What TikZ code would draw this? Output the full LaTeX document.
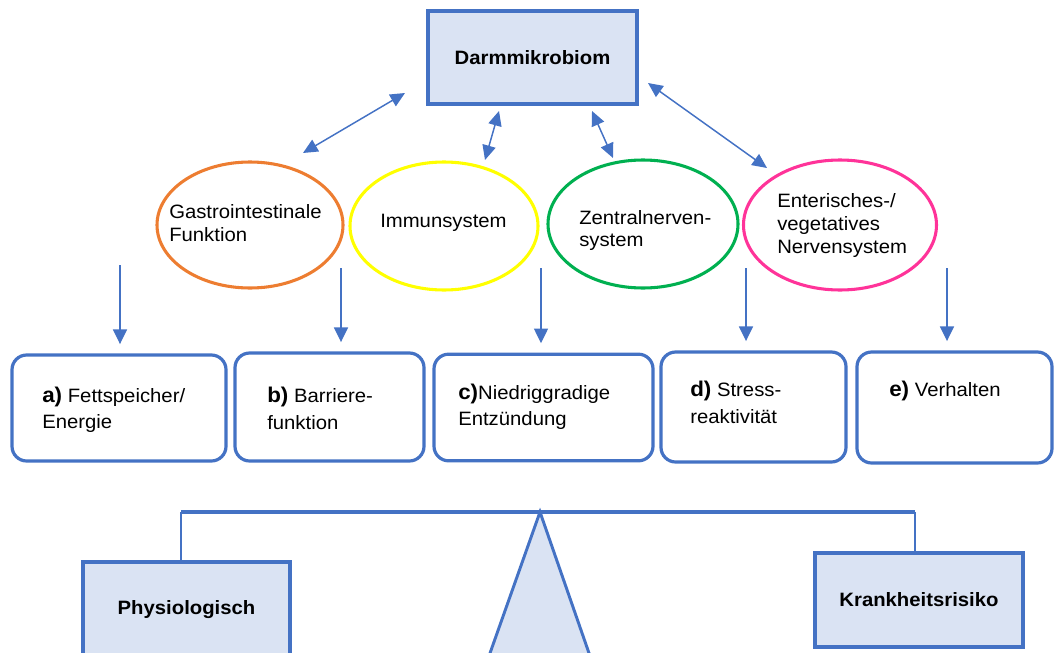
\documentclass[tikz,border=0pt]{standalone}
\usepackage{fontspec}
\setmainfont{Liberation Sans}[FakeStretch=1.05]
\usetikzlibrary{arrows.meta,shapes.geometric}

\definecolor{edgeblue}{HTML}{4472C4}
\definecolor{boxfill}{HTML}{DAE3F3}
\definecolor{giorange}{HTML}{ED7D31}
\definecolor{immyellow}{HTML}{FFFF00}
\definecolor{cnsgreen}{HTML}{00B050}
\definecolor{ensmagenta}{HTML}{FF3399}

% bold case letter in front of each effect
\newcommand\casemark[1]{{\bfseries\fontsize{16}{19}\selectfont #1}}

\begin{document}
\begin{tikzpicture}[x=0.75pt,y=-0.75pt,
  solidbox/.style={draw=edgeblue,fill=boxfill,line width=2.4pt,inner sep=0pt,
    font=\bfseries\fontsize{14.5}{17}\selectfont},
  system/.style={ellipse,draw,line width=2.3pt,inner sep=0pt,fill=white},
  effectbox/.style={draw=edgeblue,line width=2.4pt,rounded corners=11pt,fill=white,inner sep=0pt},
  % multi-line text is placed by the baseline of its last line
  txt/.style={inner sep=0pt,anchor=base west,align=left,font=\fontsize{14.5}{17}\selectfont},
  twoway/.style={draw=edgeblue,line width=1.1pt,
    {Triangle[length=11pt,width=10pt]}-{Triangle[length=11pt,width=10pt]}},
  oneway/.style={draw=edgeblue,line width=1.1pt,-{Triangle[length=11pt,width=10.5pt]}},
  lever/.style={draw=edgeblue,line width=2.6pt},
  post/.style={draw=edgeblue,line width=2pt},
]
\clip (0,0) rectangle (1054,653);

% microbiome
\node[solidbox,minimum width=156.75pt,minimum height=69.75pt] (micro) at (532.5,57.5) {Darmmikrobiom};

% body systems
\node[system,draw=giorange,minimum width=139.5pt,minimum height=94.5pt] (gi) at (250,225) {};
\node[system,draw=immyellow,minimum width=141pt,minimum height=96pt] (imm) at (444,226) {};
\node[system,draw=cnsgreen,minimum width=142.5pt,minimum height=96pt] (cns) at (643,224) {};
\node[system,draw=ensmagenta,minimum width=144.75pt,minimum height=97.5pt] (ens) at (840,225) {};

\node[txt] (gi-t) at (169,241) {Gastrointestinale\\Funktion};
\node[txt] (imm-t) at (380,227) {Immunsystem};
\node[txt,font=\fontsize{14.5}{16}\selectfont] (cns-t) at (579,246) {Zentralnerven-\\system};
\node[txt] (ens-t) at (777,253) {Enterisches-/\\vegetatives\\Nervensystem};

% two-way links between microbiome and systems
\coordinate (m1) at (405,93);  \coordinate (g1) at (303,153);
\coordinate (m2) at (499,111); \coordinate (i2) at (485,160);
\coordinate (m3) at (592,111); \coordinate (c3) at (613,158);
\coordinate (m4) at (648,83);  \coordinate (e4) at (767,168);
\draw[twoway] (m1) -- (g1);
\draw[twoway] (m2) -- (i2);
\draw[twoway] (m3) -- (c3);
\draw[twoway] (m4) -- (e4);

% effects
\node[effectbox,minimum width=160.5pt,minimum height=79.5pt] (fa) at (119,408) {};
\node[effectbox,minimum width=141.75pt,minimum height=81pt] (fb) at (329.5,407) {};
\node[effectbox,minimum width=164.25pt,minimum height=80pt] (fc) at (543.5,407.5) {};
\node[effectbox,minimum width=138.75pt,minimum height=82.5pt] (fd) at (753.5,407) {};
\node[effectbox,minimum width=146.25pt,minimum height=83.25pt] (fe) at (954.5,407.5) {};

\node[txt,font=\fontsize{14.5}{19.5}\selectfont] (fa-t) at (42,428) {\casemark{a)} Fettspeicher/\\Energie};
\node[txt,font=\fontsize{14.5}{20}\selectfont] (fb-t) at (267,429) {\casemark{b)} Barriere-\\funktion};
\node[txt,font=\fontsize{14.5}{19}\selectfont] (fc-t) at (458,425) {\casemark{c)}Niedriggradige\\Entzündung};
\node[txt,font=\fontsize{14.5}{20}\selectfont] (fd-t) at (690,423) {\casemark{d)} Stress-\\reaktivität};
\node[txt] (fe-t) at (889,396) {\casemark{e)} Verhalten};

% arrows down to the effects
\coordinate (s1) at (120,265);
\coordinate (s2) at (341,268);
\coordinate (s3) at (541,268);
\coordinate (s4) at (746,268);
\coordinate (s5) at (947,268);
\draw[oneway,shorten >=7pt] (s1) -- (s1 |- fa.north);
\draw[oneway,shorten >=7pt] (s2) -- (s2 |- fb.north);
\draw[oneway,shorten >=7pt] (s3) -- (s3 |- fc.north);
\draw[oneway,shorten >=7pt] (s4) -- (s4 |- fd.north);
\draw[oneway,shorten >=7pt] (s5) -- (s5 |- fe.north);

% balance
\node[solidbox,minimum width=155.25pt,minimum height=72pt] (phys) at (186.5,610) {Physiologisch};
\node[solidbox,minimum width=156pt,minimum height=70.5pt] (risk) at (919,600) {Krankheitsrisiko};
\coordinate (beamL) at (181,512);
\coordinate (beamR) at (915,512);
\coordinate (pivot) at (540,512);
\draw[edgeblue,fill=boxfill,line width=2.2pt,line join=miter] (pivot) -- (590,656) -- (489,656) -- cycle;
\draw[lever] (beamL) -- (beamR);
\draw[post] (beamL) -- (beamL |- phys.north);
\draw[post] (beamR) -- (beamR |- risk.north);
\end{tikzpicture}
\end{document}
